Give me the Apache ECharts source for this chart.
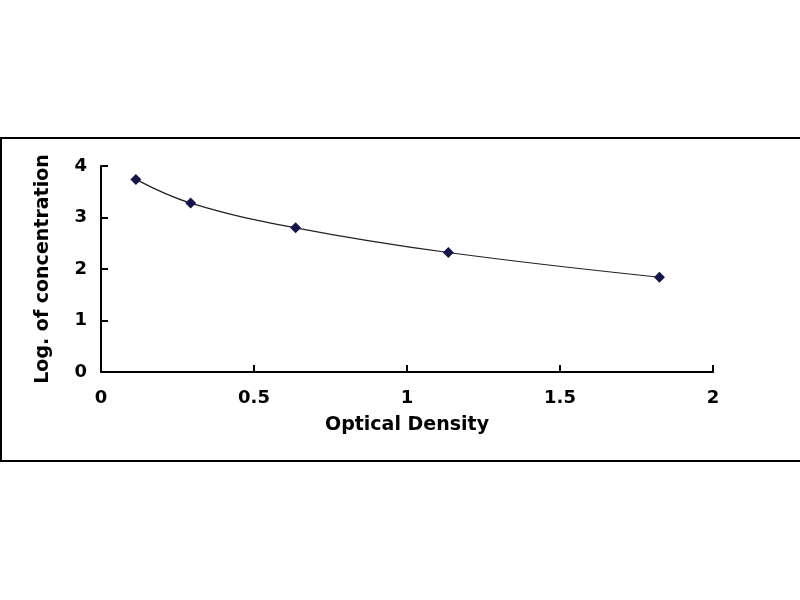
<!DOCTYPE html>
<html>
<head>
<meta charset="utf-8">
<script src="https://cdn.jsdelivr.net/npm/echarts@6/dist/echarts.min.js"></script>
<style>
  html, body { margin: 0; padding: 0; background: #fff; }
  #chart { width: 800px; height: 600px; }
</style>
</head>
<body>
<div id="chart"></div>
<script>
// standard curve points
var opticalDensity = [0.114, 0.293, 0.636, 1.135, 1.825];
var logConcentration = [3.74, 3.28, 2.80, 2.32, 1.84];

var xTicks = [0, 0.5, 1, 1.5, 2];
var yTicks = [0, 1, 2, 3, 4];

var points = [];
for (var i = 0; i < opticalDensity.length; i++) {
  points.push([opticalDensity[i], logConcentration[i]]);
}

var chart = echarts.init(document.getElementById('chart'));

var nameFont = {
  fontFamily: 'DejaVu Sans, sans-serif',
  fontWeight: 'bold',
  fontSize: 19,
  color: '#000'
};
var tickFont = {
  fontFamily: 'DejaVu Sans, sans-serif',
  fontWeight: 'bold',
  fontSize: 18,
  color: '#000'
};

chart.setOption({
  backgroundColor: '#fff',
  animation: false,
  // outer frame of the picture
  graphic: [{
    type: 'rect',
    shape: { x: 1, y: 138, width: 830, height: 323 },
    style: { fill: 'none', stroke: '#000', lineWidth: 2 },
    silent: true
  }],
  grid: {
    left: 101,
    right: 87,
    top: 166,
    bottom: 228
  },
  xAxis: {
    type: 'value',
    min: xTicks[0],
    max: xTicks[xTicks.length - 1],
    interval: 0.5,
    name: 'Optical Density',
    nameLocation: 'middle',
    nameGap: 44,
    nameTextStyle: nameFont,
    axisLine: { show: true, lineStyle: { color: '#000', width: 2 } },
    axisTick: { show: true, inside: true, length: 7, lineStyle: { color: '#000', width: 2 } },
    axisLabel: Object.assign({ margin: 17 }, tickFont),
    splitLine: { show: false }
  },
  yAxis: {
    type: 'value',
    min: yTicks[0],
    max: yTicks[yTicks.length - 1],
    interval: 1,
    name: 'Log. of concentration',
    nameLocation: 'middle',
    nameGap: 48,
    nameTextStyle: nameFont,
    axisLine: { show: true, lineStyle: { color: '#000', width: 2 } },
    axisTick: { show: true, inside: true, length: 7, lineStyle: { color: '#000', width: 2 } },
    axisLabel: Object.assign({ margin: 14 }, tickFont),
    splitLine: { show: false }
  },
  series: [{
    type: 'line',
    data: points,
    smooth: 0.4,
    symbol: 'diamond',
    symbolSize: 11,
    itemStyle: { color: '#15154a' },
    lineStyle: { color: '#222', width: 1.2 }
  }]
});
</script>
</body>
</html>
